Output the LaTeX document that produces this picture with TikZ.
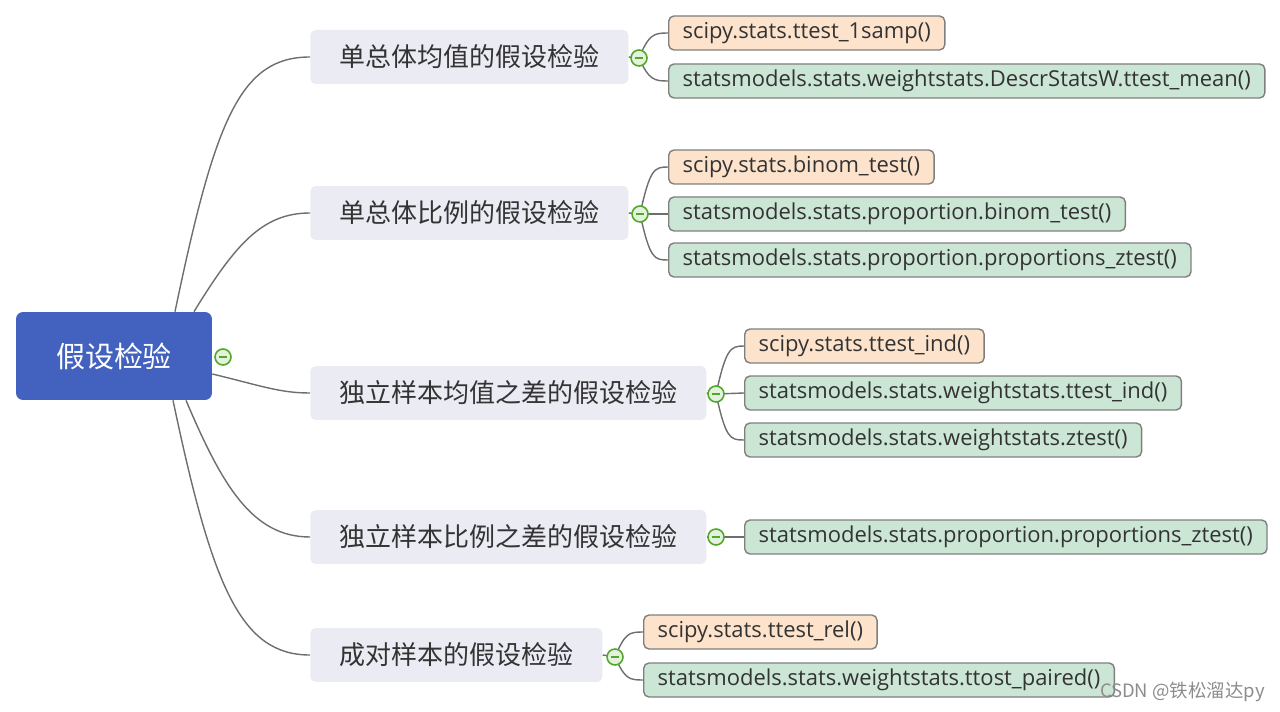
\documentclass[tikz,border=0pt]{standalone}
\usepackage{fontspec}
\setmainfont{Open Sans}
\newfontfamily\cjk{Noto Sans CJK SC}
\usetikzlibrary{calc}
\definecolor{rootblue}{HTML}{4361BE}
\definecolor{branchgray}{HTML}{EBEBF3}
\definecolor{scipyorange}{HTML}{FDE3CC}
\definecolor{smgreen}{HTML}{CCE6D5}
\definecolor{leafedge}{HTML}{7F7F7F}
\definecolor{foldgreen}{HTML}{52A82C}
\definecolor{foldfill}{HTML}{E4F1DC}
\definecolor{linkgray}{HTML}{6E6E6E}
\definecolor{textgray}{HTML}{333333}
\tikzset{
  rootnode/.style={fill=rootblue, rounded corners=4pt, text=white, minimum width=3.92cm,
    minimum height=1.76cm, font=\cjk\fontsize{16.5pt}{18pt}\selectfont},
  branchnode/.style={fill=branchgray, rounded corners=3pt, anchor=west, text=textgray,
    minimum height=1.08cm, inner xsep=0.58cm, font=\cjk\fontsize{14.8pt}{16pt}\selectfont},
  leaf/.style={draw=leafedge, line width=0.8pt, rounded corners=3pt, anchor=west, text=textgray,
    minimum height=0.68cm, inner xsep=0.28cm, font=\fontsize{12.5pt}{13pt}\selectfont},
  scipyleaf/.style={leaf, fill=scipyorange},
  smleaf/.style={leaf, fill=smgreen},
  foldmark/.style={circle, draw=foldgreen, fill=foldfill, line width=0.9pt, inner sep=0pt,
    minimum size=0.32cm, path picture={\draw[foldgreen, line width=1.1pt]
      ([xshift=-2.4pt]path picture bounding box.center) -- ([xshift=2.4pt]path picture bounding box.center);}},
  link/.style={draw=linkgray, line width=0.8pt}
}
\begin{document}
\begin{tikzpicture}[x=0.02cm, y=-0.02cm]
\useasboundingbox (0,0) rectangle (1280,712);

% root and first level
\node[rootnode] (root) at (114,356) {假设检验};
\node[branchnode] (b1) at (310,57) {单总体均值的假设检验};
\node[branchnode] (b2) at (310,213) {单总体比例的假设检验};
\node[branchnode] (b3) at (310,393) {独立样本均值之差的假设检验};
\node[branchnode] (b4) at (310,537) {独立样本比例之差的假设检验};
\node[branchnode] (b5) at (310,655) {成对样本的假设检验};

% leaves
\node[scipyleaf] (l11) at (668,33) {scipy.stats.ttest\_1samp()};
\node[smleaf] (l12) at (668,81) {statsmodels.stats.weightstats.DescrStatsW.ttest\_mean()};
\node[scipyleaf] (l21) at (668,167) {scipy.stats.binom\_test()};
\node[smleaf] (l22) at (668,214) {statsmodels.stats.proportion.binom\_test()};
\node[smleaf] (l23) at (668,260) {statsmodels.stats.proportion.proportions\_ztest()};
\node[scipyleaf] (l31) at (744,346) {scipy.stats.ttest\_ind()};
\node[smleaf] (l32) at (744,393) {statsmodels.stats.weightstats.ttest\_ind()};
\node[smleaf] (l33) at (744,440) {statsmodels.stats.weightstats.ztest()};
\node[smleaf] (l41) at (744,537) {statsmodels.stats.proportion.proportions\_ztest()};
\node[scipyleaf] (l51) at (643,632) {scipy.stats.ttest\_rel()};
\node[smleaf] (l52) at (643,680) {statsmodels.stats.weightstats.ttost\_paired()};

% fold marks
\coordinate (f0) at (223,357);
\coordinate (f1) at (639,58);
\coordinate (f2) at (640,214);
\coordinate (f3) at (716,394);
\coordinate (f4) at (716,537);
\coordinate (f5) at (615,657);

% root links
\draw[link] ($(root.north)+(61,0)$) .. controls (215,120) and (240,57) .. (b1.west);
\draw[link] ($(root.north)+(80,0)$) .. controls (235,245) and (262,213) .. (b2.west);
\draw[link] ($(root.east)+(0,18)$) .. controls (262,386) and (280,393) .. (b3.west);
\draw[link] ($(root.south)+(72,0)$) .. controls (222,485) and (252,537) .. (b4.west);
\draw[link] ($(root.south)+(59,0)$) .. controls (212,585) and (240,655) .. (b5.west);

% leaf links
\draw[link] (b1.east) -- (f1);
\draw[link] (f1) .. controls +(10,-24) and +(-14,0) .. (l11.west);
\draw[link] (f1) .. controls +(10,22) and +(-14,0) .. (l12.west);
\draw[link] (b2.east) -- (f2);
\draw[link] (f2) .. controls +(10,-45) and +(-14,0) .. (l21.west);
\draw[link] (f2) -- (l22.west);
\draw[link] (f2) .. controls +(10,45) and +(-14,0) .. (l23.west);
\draw[link] (b3.east) -- (f3);
\draw[link] (f3) .. controls +(10,-45) and +(-14,0) .. (l31.west);
\draw[link] (f3) -- (l32.west);
\draw[link] (f3) .. controls +(10,45) and +(-14,0) .. (l33.west);
\draw[link] (b4.east) -- (l41.west);
\draw[link] (b5.east) -- (f5);
\draw[link] (f5) .. controls +(10,-24) and +(-14,0) .. (l51.west);
\draw[link] (f5) .. controls +(10,22) and +(-14,0) .. (l52.west);

\foreach \f in {f0,f1,f2,f3,f4,f5}
  \node[foldmark] at (\f) {};

% watermark
\node[anchor=east, text=black!45, font=\cjk\fontsize{10.5pt}{11pt}\selectfont, inner sep=0pt] (mark) at (1265,692) {CSDN @铁松溜达py};
\end{tikzpicture}
\end{document}
